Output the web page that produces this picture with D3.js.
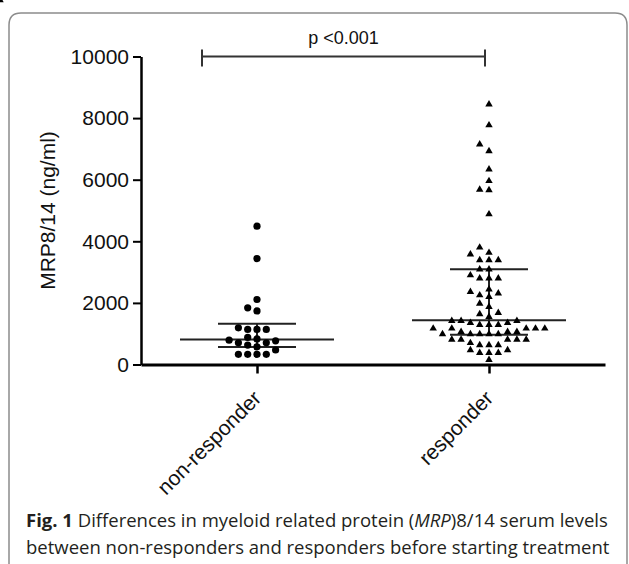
<!DOCTYPE html>
<html>
<head>
<meta charset="utf-8">
<script src="https://cdn.jsdelivr.net/npm/d3@7"></script>
<style>
body { margin: 0; background: #fff; }
</style>
</head>
<body>
<div id="root"></div>
<script>
// data (ng/ml)
const categories = ["non-responder", "responder"];
const nonResponder = [4490, 3440, 2110, 1840, 1740, 1190, 1140, 1140, 1140,
    880, 830, 790, 770, 705, 705, 630, 575, 470, 330, 330, 330, 330];
const responder = [8450, 7770, 7150, 6930, 6340, 5960, 5680, 5660, 4880,
    3800, 3630, 3580, 3390, 3390, 3390, 3090, 3090, 2900, 2800, 2800, 2800,
    2440, 2360, 2310, 2250, 2200, 1980, 1870,
    1680, 1640, 1550, 1420, 1420, 1420,
    1355, 1355, 1290, 1290, 1290, 1170, 1170, 1170, 1170, 1170, 1170,
    1060, 1060, 1060, 990, 990, 990, 990, 990, 810, 810, 810, 810, 810,
    700, 630, 630, 630, 470, 470, 380, 380, 380, 150];
// median and interquartile range as drawn
const medians = [815, 1440];
const q1 = [565, 965];
const q3 = [1320, 3090];
const yTicks = [0, 2000, 4000, 6000, 8000, 10000];
const pText = "p <0.001";

var width = 629, height = 564;
var svg = d3.select("#root")
    .append("svg")
    .attr("width", width)
    .attr("height", height);

// rounded frame round the figure (open at the bottom / right)
svg.append("path")
    .attr("d", "M9,580 L9,25 Q9,13 21,13 L615,13 Q627,13 627,25 L627,580")
    .attr("fill", "none")
    .attr("stroke", "#8c8c8c")
    .attr("stroke-width", 1.5);

var x = d3.scalePoint()
    .domain(categories)
    .range([141, 605])
    .padding(0.5);

var y = d3.scaleLinear()
    .domain([0, 10000])
    .range([364.5, 56.5]);

var font = "'Liberation Sans', Arial, sans-serif";

// Y axis
var yAxis = svg.append("g")
    .attr("transform", "translate(141,0)")
    .call(d3.axisLeft(y).tickValues(yTicks).tickFormat(d3.format("d"))
        .tickSize(8).tickSizeOuter(0).tickPadding(4));
yAxis.select(".domain").attr("stroke", "#000").attr("stroke-width", 2.5);
yAxis.selectAll(".tick line").attr("stroke", "#000").attr("stroke-width", 2);
yAxis.selectAll(".tick text")
    .attr("fill", "#111")
    .style("font-family", font)
    .style("font-size", "21px");

// X axis
var xAxis = svg.append("g")
    .attr("transform", "translate(0," + y(0) + ")")
    .call(d3.axisBottom(x).tickSize(9).tickSizeOuter(0));
xAxis.select(".domain").attr("stroke", "#000").attr("stroke-width", 3);
xAxis.selectAll(".tick line").attr("stroke", "#000").attr("stroke-width", 2.5);
xAxis.selectAll(".tick text")
    .attr("fill", "#111")
    .attr("y", 0)
    .attr("dy", 0)
    .attr("text-anchor", "end")
    .attr("transform", "translate(5,35) rotate(-45)")
    .style("font-family", font)
    .style("font-size", "21px");

// y label
svg.append("text")
    .attr("transform", "translate(55," + ((y(0) + y(10000)) / 2) + ") rotate(-90)")
    .attr("text-anchor", "middle")
    .attr("fill", "#111")
    .style("font-family", font)
    .style("font-size", "21px")
    .text("MRP8/14 (ng/ml)");

// simple column scatter: integer slots, pushed sideways when they would overlap
function swarm(values, cx)
{
    var step = 9.3, minDy = 7;
    var order = [0, -1, 1, -2, 2, -3, 3, -4, 4, -5, 5, -6, 6];
    var placed = [];
    return values.slice().sort((a, b) => a - b).map((v) =>
    {
        var py = y(v);
        var slot = order.find((s) => !placed.some((p) => p.s === s && Math.abs(p.y - py) < minDy));
        placed.push({ s: slot, y: py });
        return { x: cx + slot * step, y: py };
    });
}

// median + IQR
categories.forEach((c, i) =>
{
    var cx = x(c);
    var g = svg.append("g").attr("stroke", "#222").attr("stroke-width", 2);
    g.append("line").attr("x1", cx - 77).attr("x2", cx + 77).attr("y1", y(medians[i])).attr("y2", y(medians[i]));
    g.append("line").attr("x1", cx - 39).attr("x2", cx + 39).attr("y1", y(q1[i])).attr("y2", y(q1[i]));
    g.append("line").attr("x1", cx - 39).attr("x2", cx + 39).attr("y1", y(q3[i])).attr("y2", y(q3[i]));
    g.append("line").attr("x1", cx).attr("x2", cx).attr("y1", y(q1[i])).attr("y2", y(q3[i]));
});

// non-responders: dots
svg.append("g")
    .selectAll("circle")
    .data(swarm(nonResponder, x(categories[0])))
    .join("circle")
    .attr("cx", (d) => d.x)
    .attr("cy", (d) => d.y)
    .attr("r", 3.6)
    .attr("fill", "#000");

// responders: triangles
svg.append("g")
    .selectAll("path")
    .data(swarm(responder, x(categories[1])))
    .join("path")
    .attr("transform", (d) => "translate(" + d.x + "," + d.y + ")")
    .attr("d", d3.symbol(d3.symbolTriangle, 24))
    .attr("fill", "#000");

// significance bar
var bx1 = x(categories[0]) - 55, bx2 = x(categories[1]) - 4, by = y(10000);
svg.append("path")
    .attr("d", "M" + bx1 + "," + (by - 7) + "V" + (by + 10) + "M" + bx1 + "," + by + "H" + bx2 +
        "M" + bx2 + "," + (by - 7) + "V" + (by + 10))
    .attr("fill", "none")
    .attr("stroke", "#333")
    .attr("stroke-width", 2);

svg.append("text")
    .attr("x", (bx1 + bx2) / 2)
    .attr("y", 44)
    .attr("text-anchor", "middle")
    .attr("fill", "#111")
    .style("font-family", font)
    .style("font-size", "18px")
    .text(pText);

// caption
var cap = svg.append("text")
    .attr("fill", "#231f20")
    .style("font-family", "'Open Sans', 'Noto Sans', sans-serif")
    .style("font-size", "18.5px");
var l1 = cap.append("tspan").attr("x", 26).attr("y", 527);
l1.append("tspan").style("font-weight", "bold").text("Fig. 1");
l1.append("tspan").text(" Differences in myeloid related protein (");
l1.append("tspan").style("font-style", "italic").text("MRP");
l1.append("tspan").text(")8/14 serum levels");
cap.append("tspan").attr("x", 26).attr("y", 554)
    .text("between non-responders and responders before starting treatment");
</script>
</body>
</html>
